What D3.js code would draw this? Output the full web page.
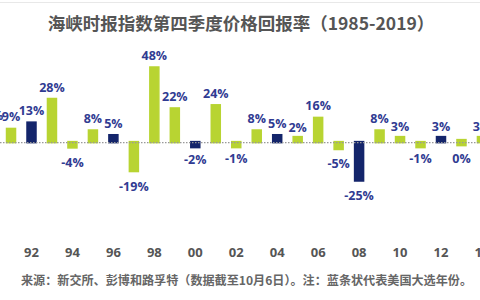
<!DOCTYPE html>
<html lang="zh">
<head>
<meta charset="UTF-8">
<title>海峡时报指数第四季度价格回报率</title>
<script src="https://d3js.org/d3.v7.min.js"></script>
<style>
    body { margin: 0; background: #fff; }
    svg { display: block; font-family: "Open Sans", "Noto Sans CJK SC", sans-serif; }
</style>
</head>
<body>
<svg width="480" height="300"></svg>
<script>
    // chart is cropped on both sides in the original, so 1990 and 2014 sit half outside
    const years = [1990, 1991, 1992, 1993, 1994, 1995, 1996, 1997, 1998, 1999, 2000, 2001,
                   2002, 2003, 2004, 2005, 2006, 2007, 2008, 2009, 2010, 2011, 2012, 2013, 2014];
    const returns = [10, 9, 13, 28, -4, 8, 5, -19, 48, 22, -2, 24,
                     -1, 8, 5, 2, 16, -5, -25, 8, 3, -1, 3, 0, 3];
    const electionYears = [1992, 1996, 2000, 2004, 2008, 2012];
    const tickYears = [1990, 1992, 1994, 1996, 1998, 2000, 2002, 2004, 2006, 2008, 2010, 2012, 2014];

    const data = years.map((y, i) => ({ year: y, value: returns[i] }));

    const svg = d3.select("svg");

    const x = d3.scaleLinear().domain([1992, 2012]).range([31.5, 441]);
    const y = d3.scaleLinear().domain([-25, 48]).range([182, 67]);
    const barW = 9;
    const minH = 6;

    const green = "#b8d432", navy = "#14256b", labelColor = "#303b92";

    const barH = d => Math.max(Math.abs(y(d.value) - y(0)), minH);

    // thin rule at the very top
    svg.append("line")
        .attr("x1", 0).attr("x2", 480).attr("y1", 2.5).attr("y2", 2.5)
        .attr("stroke", "#e8e8e8");

    svg.append("text")
        .attr("x", 241).attr("y", 30)
        .attr("text-anchor", "middle")
        .attr("font-family", "'Noto Sans CJK SC', sans-serif")
        .attr("font-size", 17.5).attr("font-weight", "bold")
        .attr("fill", "#555")
        .text("海峡时报指数第四季度价格回报率（1985-2019）");

    // bars
    svg.append("g").selectAll("rect")
        .data(data)
        .enter().append("rect")
        .attr("x", d => x(d.year) - barW / 2)
        .attr("y", d => d.value > 0 ? y(0) - barH(d)
                      : (d.value < 0 ? y(0) - 1 : y(0) - barH(d) / 2))
        .attr("width", barW)
        .attr("height", barH)
        .attr("fill", d => electionYears.includes(d.year) ? navy : green)
        .attr("stroke", d => electionYears.includes(d.year) ? navy : green)
        .attr("stroke-width", 1.5);

    // dotted zero line drawn over bars
    svg.append("line")
        .attr("x1", 0).attr("x2", 480)
        .attr("y1", y(0)).attr("y2", y(0))
        .attr("stroke", "#999").attr("stroke-width", 1.2)
        .attr("stroke-dasharray", "1.5,1.5");

    // value labels
    svg.append("g").selectAll("text")
        .data(data)
        .enter().append("text")
        .attr("x", d => x(d.year))
        .attr("y", d => d.value > 0 ? y(d.value) - 7 : Math.max(y(d.value), y(0) + 2) + 18)
        .attr("text-anchor", "middle")
        .attr("font-size", 12.5).attr("font-weight", "bold")
        .attr("fill", labelColor)
        .text(d => d.value + "%");

    // year ticks
    svg.append("g").selectAll("text")
        .data(tickYears)
        .enter().append("text")
        .attr("x", d => x(d))
        .attr("y", 257)
        .attr("text-anchor", "middle")
        .attr("font-size", 13).attr("font-weight", "bold")
        .attr("fill", "#555")
        .text(d => String(d).slice(2));

    svg.append("text")
        .attr("x", 21).attr("y", 285)
        .attr("font-family", "'Noto Sans CJK SC', sans-serif")
        .attr("font-size", 12).attr("font-weight", "bold")
        .attr("fill", "#666")
        .attr("textLength", 451).attr("lengthAdjust", "spacingAndGlyphs")
        .text("来源：新交所、彭博和路孚特（数据截至10月6日）。注：蓝条状代表美国大选年份。");
</script>
</body>
</html>
